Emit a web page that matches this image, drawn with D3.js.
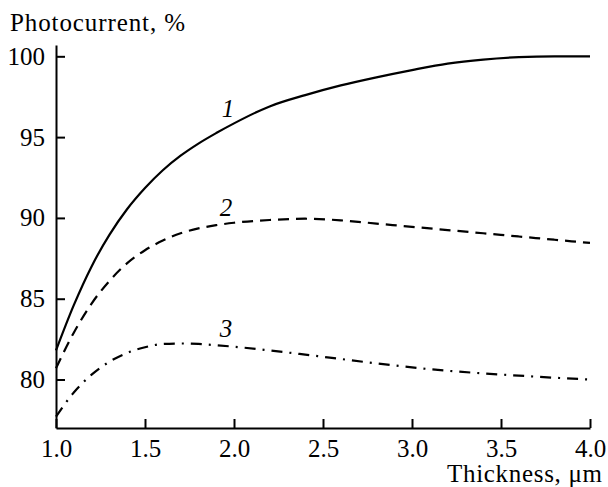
<!DOCTYPE html>
<html>
<head>
<meta charset="utf-8">
<script src="https://cdnjs.cloudflare.com/ajax/libs/d3/7.8.5/d3.min.js"></script>
<style>
  body { margin: 0; background: #fff; }
  svg { display: block; }
  svg text { font-family: "Liberation Serif", "DejaVu Serif", serif; }
</style>
</head>
<body>
<div id="chart"></div>
<script>
(function() {
    var width = 608,
        height = 487;

    // thickness, um
    var thickness = [1.0, 1.1, 1.2, 1.3, 1.4, 1.5, 1.6, 1.7, 1.8, 1.9, 2.0,
                     2.2, 2.4, 2.6, 2.8, 3.0, 3.2, 3.4, 3.6, 3.8, 4.0];
    // photocurrent, %
    var curve1 = [81.8, 84.6, 87.0, 88.95, 90.55, 91.85, 92.95, 93.85, 94.6, 95.25, 95.85,
                  96.9, 97.6, 98.2, 98.7, 99.15, 99.55, 99.8, 99.95, 100, 100];
    var curve2 = [80.7, 82.9, 84.7, 86.1, 87.2, 88.0, 88.6, 89.05, 89.35, 89.55, 89.7,
                  89.87, 89.95, 89.85, 89.65, 89.45, 89.25, 89.05, 88.85, 88.65, 88.45];
    var curve3 = [77.7, 79.2, 80.3, 81.1, 81.65, 82.0, 82.2, 82.23, 82.2, 82.12, 82.03,
                  81.8, 81.54, 81.27, 81.0, 80.75, 80.54, 80.38, 80.24, 80.11, 80.0];

    var xTicks = [1.0, 1.5, 2.0, 2.5, 3.0, 3.5, 4.0];
    var yTicks = [80, 85, 90, 95, 100];

    var series = [
        { name: "1", values: curve1, dash: null,        lx: 228, ly: 117 },
        { name: "2", values: curve2, dash: "11,7",      lx: 226, ly: 216 },
        { name: "3", values: curve3, dash: "11,7,2,7",  lx: 226, ly: 337 }
    ];

    var fontSize = 25;

    var svg = d3.select("#chart")
        .append("svg")
        .attr("width", width)
        .attr("height", height);

    svg.append("rect")
        .attr("width", "100%")
        .attr("height", "100%")
        .attr("fill", "white");

    var x = d3.scaleLinear().domain([1, 4]).range([56, 590]);
    var y = d3.scaleLinear().domain([77, 100.7]).range([428, 45]);

    // x axis, ticks pointing inward
    svg.append("g")
        .attr("transform", "translate(0," + y(77) + ")")
        .call(d3.axisBottom(x)
            .tickValues(xTicks)
            .tickFormat(d3.format(".1f"))
            .tickSize(-9)
            .tickSizeOuter(0)
            .tickPadding(11));

    // y axis
    svg.append("g")
        .attr("transform", "translate(" + x(1) + ",0)")
        .call(d3.axisLeft(y)
            .tickValues(yTicks)
            .tickSize(-9)
            .tickSizeOuter(0)
            .tickPadding(11));

    svg.selectAll(".domain, .tick line")
        .attr("stroke", "black")
        .attr("stroke-width", 2);

    svg.selectAll("g").attr("font-family", null);

    svg.selectAll(".tick text")
        .attr("font-size", fontSize)
        .attr("fill", "black");

    // axis titles
    svg.append("text")
        .attr("x", 10)
        .attr("y", 31)
        .attr("font-size", fontSize)
        .attr("textLength", 175)
        .attr("lengthAdjust", "spacing")
        .text("Photocurrent, %");

    svg.append("text")
        .attr("x", 447)
        .attr("y", 482)
        .attr("font-size", fontSize)
        .attr("textLength", 155)
        .attr("lengthAdjust", "spacing")
        .text("Thickness, μm");

    var line = d3.line()
        .x(function(d) { return x(d[0]); })
        .y(function(d) { return y(d[1]); })
        .curve(d3.curveMonotoneX);

    series.forEach(function(s) {
        var pts = thickness.map(function(t, i) { return [t, s.values[i]]; });
        svg.append("path")
            .datum(pts)
            .attr("d", line)
            .attr("fill", "none")
            .attr("stroke", "black")
            .attr("stroke-width", 2.2)
            .attr("stroke-dasharray", s.dash);

        svg.append("text")
            .attr("x", s.lx)
            .attr("y", s.ly)
            .attr("text-anchor", "middle")
            .attr("font-style", "italic")
            .attr("font-size", fontSize)
            .text(s.name);
    });
})();
</script>
</body>
</html>
